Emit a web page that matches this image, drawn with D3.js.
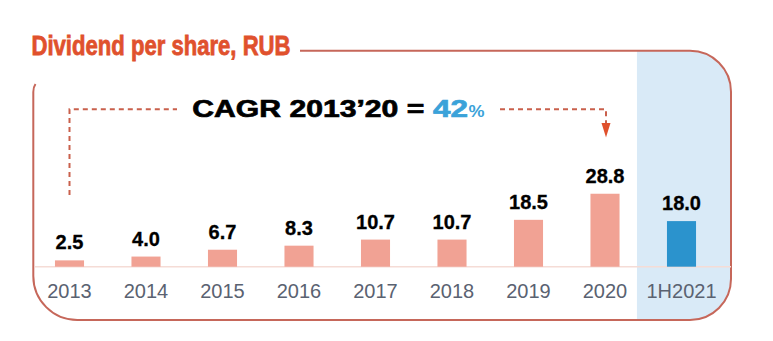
<!DOCTYPE html>
<html>
<head>
<meta charset="utf-8">
<script src="https://cdn.jsdelivr.net/npm/d3@7"></script>
<style>
  html, body { margin: 0; padding: 0; background: #ffffff; }
  svg { display: block; }
  text { font-family: "Liberation Sans", Arial, sans-serif; }
</style>
</head>
<body>
<svg id="chart" width="773" height="341"></svg>
<script>
// ---- data ----
const categories = ["2013", "2014", "2015", "2016", "2017", "2018", "2019", "2020", "1H2021"];
const values = [2.5, 4.0, 6.7, 8.3, 10.7, 10.7, 18.5, 28.8, 18.0];
const valueLabels = ["2.5", "4.0", "6.7", "8.3", "10.7", "10.7", "18.5", "28.8", "18.0"];
const titleText = "Dividend per share, RUB";
const cagrText = "CAGR 2013\u201920 =";
const cagrValue = "42";
const cagrUnit = "%";
const cagrFrom = "2013";
const cagrTo = "2020";
const highlightCategory = "1H2021";

// ---- drawing ----
const svg = d3.select("#chart");
const data = categories.map((c, i) => ({ cat: c, v: values[i], label: valueLabels[i] }));

const x = d3.scaleBand()
  .domain(categories)
  .range([31.25, 719.75])
  .paddingInner(0.62)
  .paddingOuter(0.31);

const y = d3.scaleLinear().domain([0, 30]).range([266.7, 190.7]);

const cx = c => x(c) + x.bandwidth() / 2;

const borderColor = "#c6675a";
const rightX = 731, topY = 50.7, botY = 320, r = 41;

// highlight background
const hx0 = x(highlightCategory) - 30;
svg.append("path")
  .attr("d", `M${hx0},${topY} H${rightX - r} A${r} ${r} 0 0 1 ${rightX} ${topY + r} V${botY - r} A${r} ${r} 0 0 1 ${rightX - r} ${botY} H${hx0} Z`)
  .attr("fill", "#d9eaf7");

// frame
svg.append("path")
  .attr("d", `M300,${topY} H${rightX - r} A${r} ${r} 0 0 1 ${rightX} ${topY + r} V${botY - r} A${r} ${r} 0 0 1 ${rightX - r} ${botY} H${33.3 + 44} A44 44 0 0 1 33.3 ${botY - 44} V92 Q33.3 87 35.5 84`)
  .attr("fill", "none")
  .attr("stroke", borderColor)
  .attr("stroke-width", 2);

// title
svg.append("text")
  .attr("x", 31.5).attr("y", 55)
  .attr("font-size", 28).attr("font-weight", "bold")
  .attr("fill", "#e0512d")
  .attr("stroke", "#e0512d").attr("stroke-width", 0.8)
  .attr("textLength", 259).attr("lengthAdjust", "spacingAndGlyphs")
  .text(titleText);

// baseline
svg.append("line")
  .attr("x1", 35).attr("x2", rightX)
  .attr("y1", y(0)).attr("y2", y(0))
  .attr("stroke", "#f5dcd6").attr("stroke-width", 1.5);

// bars
svg.append("g").selectAll("rect")
  .data(data).join("rect")
  .attr("x", d => x(d.cat))
  .attr("width", x.bandwidth())
  .attr("y", d => y(d.v))
  .attr("height", d => y(0) - y(d.v))
  .attr("fill", d => d.cat === highlightCategory ? "#2b93cd" : "#f1a294");

// value labels
svg.append("g").selectAll("text")
  .data(data).join("text")
  .attr("x", d => cx(d.cat))
  .attr("y", d => y(d.v) - 11)
  .attr("text-anchor", "middle")
  .attr("font-size", 20).attr("font-weight", "bold")
  .attr("fill", "#000")
  .attr("stroke", "#000").attr("stroke-width", 0.3)
  .text(d => d.label);

// category axis labels
const axis = d3.axisBottom(x).tickSize(0).tickPadding(0);
const ag = svg.append("g").attr("transform", `translate(0, 298)`).call(axis);
ag.select(".domain").remove();
ag.selectAll("text")
  .attr("y", 0).attr("dy", 0)
  .attr("font-size", 20)
  .attr("font-family", "'Liberation Sans', Arial, sans-serif")
  .attr("fill", "#5a6271");

// CAGR annotation
const dashColor = "#c9604c";
const ax0 = cx(cagrFrom), ax1 = cx(cagrTo) + 1;
const lineY = 109.3;
svg.append("path")
  .attr("d", `M${ax0},195 V${lineY} H177`)
  .attr("fill", "none").attr("stroke", dashColor)
  .attr("stroke-width", 2).attr("stroke-dasharray", "5,4");
svg.append("path")
  .attr("d", `M500,${lineY} H${ax1} V124`)
  .attr("fill", "none").attr("stroke", dashColor)
  .attr("stroke-width", 2).attr("stroke-dasharray", "5,4");
svg.append("path")
  .attr("d", `M${ax1 - 4.5},123 L${ax1 + 4.5},123 L${ax1},137.5 Z`)
  .attr("fill", "#e0502c");

svg.append("text")
  .attr("x", 192.3).attr("y", 117.3)
  .attr("font-size", 24.5).attr("font-weight", "bold")
  .attr("fill", "#000")
  .attr("stroke", "#000").attr("stroke-width", 0.7)
  .attr("textLength", 232).attr("lengthAdjust", "spacingAndGlyphs")
  .text(cagrText);
svg.append("text")
  .attr("x", 433).attr("y", 117.3)
  .attr("font-size", 24.5).attr("font-weight", "bold")
  .attr("fill", "#3aa2d9")
  .attr("stroke", "#3aa2d9").attr("stroke-width", 0.7)
  .attr("textLength", 35).attr("lengthAdjust", "spacingAndGlyphs")
  .text(cagrValue);
svg.append("text")
  .attr("x", 468.5).attr("y", 117.3)
  .attr("font-size", 16).attr("font-weight", "bold")
  .attr("fill", "#3aa2d9")
  .attr("textLength", 16).attr("lengthAdjust", "spacingAndGlyphs")
  .text(cagrUnit);
</script>
</body>
</html>
